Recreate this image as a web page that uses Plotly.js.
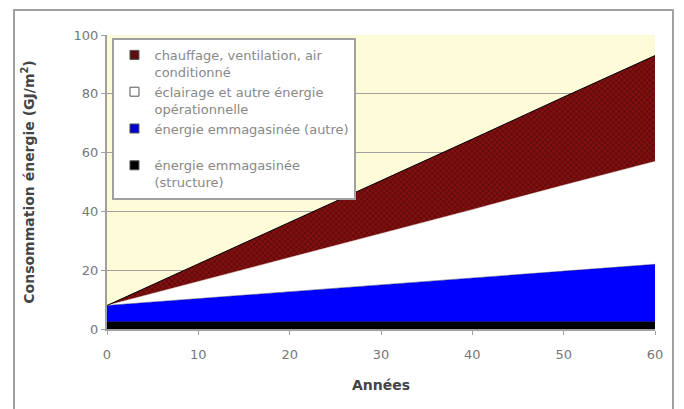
<!DOCTYPE html>
<html><head><meta charset="utf-8">
<script src="https://cdn.plot.ly/plotly-3.0.1.min.js"></script>
<style>html,body{margin:0;padding:0;background:#fff}#c{width:684px;height:409px}</style>
</head><body><div id="c"></div>
<script>
const years = [0, 10, 20, 30, 40, 50, 60];
const structure = [2.5, 2.5, 2.5, 2.5, 2.5, 2.5, 2.5];
const autre = [5.5, 7.8, 10.2, 12.5, 14.8, 17.2, 19.5];
const eclairage = [0, 5.8, 11.7, 17.5, 23.3, 29.2, 35];
const chauffage = [0, 6, 12, 18, 24, 30, 36];
const names = ["énergie emmagasinée<br>(structure)", "énergie emmagasinée (autre)<br> ", "éclairage et autre énergie<br>opérationnelle", "chauffage, ventilation, air<br>conditionné"];
const xTicks = [0, 10, 20, 30, 40, 50, 60];
const yTicks = [0, 20, 40, 60, 80, 100];

const FONT = "DejaVu Sans, Arial, sans-serif";
const series = [structure, autre, eclairage, chauffage];
const fills = ["#000000", "#0000ff", "#ffffff", "#7a0d0d"];
const lines = ["#000000", "#000080", "#ffffff", "#000000"];
const swatch = ["#000000", "#0000cc", "#ffffff", "#5a1010"];
const traces = series.map((s, i) => ({
  x: years, y: s, name: names[i], type: "scatter", mode: "lines",
  stackgroup: "one", fillcolor: fills[i], showlegend: false,
  line: {color: lines[i], width: i === 3 ? 1 : 0.5},
  fillpattern: i === 3 ? {shape: "x", fgcolor: "#4a0505", bgcolor: "#801010", size: 4, solidity: 0.3} : undefined,
  hoverinfo: "skip"
}));
const legendTraces = series.map((s, i) => ({
  x: [null], y: [null], name: names[i], type: "scatter", mode: "markers",
  marker: {symbol: "square", size: 9, color: swatch[i], line: {color: "#555", width: 1}},
  legendrank: 10 - i, hoverinfo: "skip"
}));

const layout = {
  width: 684, height: 409,
  margin: {l: 107, r: 29, t: 35, b: 80},
  paper_bgcolor: "#ffffff", plot_bgcolor: "#fefcd8",
  showlegend: true,
  legend: {x: 0.01, y: 0.99, xanchor: "left", yanchor: "top", bgcolor: "#ffffff",
    bordercolor: "#a0a0a0", borderwidth: 2, traceorder: "normal", valign: "top",
    font: {family: FONT, size: 13, color: "#888"},
    itemwidth: 30, tracegroupgap: 0},
  xaxis: {range: [0, 60], tickvals: xTicks, showgrid: false, zeroline: false,
    showline: true, linecolor: "#a0a0a0", linewidth: 2, ticks: "outside", ticklen: 4, tickcolor: "#a0a0a0",
    ticklabelstandoff: 8,
    tickfont: {family: FONT, size: 13, color: "#777"},
    title: {text: "<b>Années</b>", standoff: 20, font: {family: FONT, size: 14, color: "#444"}}},
  yaxis: {range: [0, 100], tickvals: yTicks, showgrid: true, gridcolor: "#a0a0a0", gridwidth: 1, zeroline: false,
    showline: true, linecolor: "#a0a0a0", linewidth: 2, ticks: "outside", ticklen: 4, tickcolor: "#a0a0a0",
    tickfont: {family: FONT, size: 13, color: "#777"},
    title: {text: "<b>Consommation énergie (GJ/m<sup>2</sup>)</b>", standoff: 36, font: {family: FONT, size: 14, color: "#444"}}},
  shapes: [{type: "rect", xref: "paper", yref: "paper", x0: -0.1697, x1: 1.0328, y0: -0.4, y1: 1.085,
    line: {color: "#a0a0a0", width: 2}, fillcolor: "rgba(0,0,0,0)", layer: "below"}]
};
Plotly.newPlot("c", traces.concat(legendTraces), layout, {staticPlot: true});
</script></body></html>
